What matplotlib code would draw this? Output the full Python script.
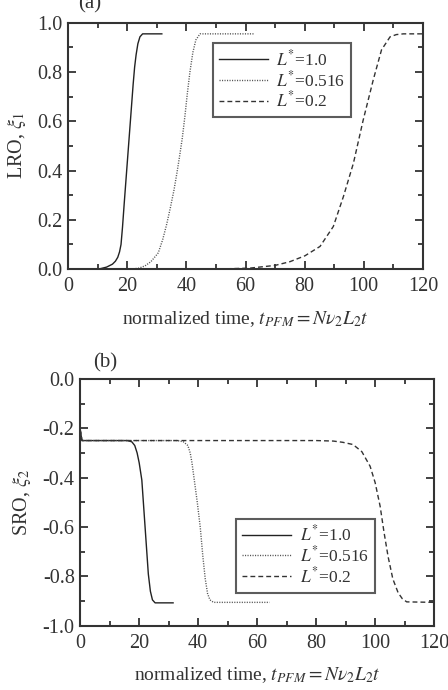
import matplotlib
matplotlib.use("agg")
import matplotlib.pyplot as plt
from matplotlib.ticker import MultipleLocator, FormatStrFormatter

plt.rcParams["font.family"] = ["Liberation Serif", "DejaVu Serif"]
plt.rcParams["mathtext.fontset"] = "stix"

# (a) long-range order
t_a_10 = [0, 9, 11, 13, 15, 16, 16.8, 17.4, 17.9, 18.4, 19.0, 20.0, 21.0, 22.0, 22.5, 23.0, 23.6, 24.3, 25.2, 31.7]
lro_10 = [0, 0, 0.002, 0.008, 0.02, 0.032, 0.048, 0.07, 0.1, 0.17, 0.27, 0.43, 0.59, 0.75, 0.82, 0.87, 0.915, 0.943, 0.955, 0.955]

t_a_0516 = [0, 21.5, 24, 26, 28, 30.5, 32, 33.3, 34.6, 35.8, 36.8, 37.6, 38.6, 39.5, 40.3, 41.2, 42.2, 43.2, 44.6, 62.9]
lro_0516 = [0, 0, 0.004, 0.013, 0.03, 0.066, 0.12, 0.18, 0.25, 0.32, 0.39, 0.45, 0.53, 0.62, 0.71, 0.8, 0.88, 0.93, 0.955, 0.955]

t_a_02 = [0, 50, 61.5, 70, 75, 80.1, 85.2, 89.7, 93.1, 96.5, 99.8, 103.2, 106, 108.9, 111, 113.4, 120]
lro_02 = [0, 0, 0.004, 0.015, 0.03, 0.054, 0.092, 0.173, 0.294, 0.43, 0.605, 0.768, 0.89, 0.943, 0.952, 0.955, 0.955]

# (b) short-range order
t_b_10 = [0, 0.6, 16, 17.5, 18.5, 19.3, 20.0, 20.9, 22.0, 23.1, 23.8, 24.5, 25.4, 31.5]
sro_10 = [-0.205, -0.25, -0.25, -0.255, -0.27, -0.3, -0.34, -0.41, -0.6, -0.79, -0.86, -0.895, -0.907, -0.907]

t_b_0516 = [0, 0.6, 33, 35, 36.5, 37.3, 37.9, 38.8, 39.7, 40.7, 41.6, 42.4, 43.2, 44, 45.2, 64.2]
sro_0516 = [-0.205, -0.25, -0.25, -0.255, -0.27, -0.3, -0.34, -0.42, -0.5, -0.6, -0.72, -0.81, -0.87, -0.895, -0.905, -0.905]

t_b_02 = [0, 0.6, 80, 85.8, 89, 92.5, 95.5, 98.3, 100, 101.7, 103, 104.4, 106, 107.8, 109.2, 110.7, 120]
sro_02 = [-0.205, -0.25, -0.25, -0.252, -0.257, -0.266, -0.295, -0.354, -0.42, -0.516, -0.62, -0.72, -0.81, -0.866, -0.89, -0.903, -0.905]

labels = [r"$L^{*}$=1.0", r"$L^{*}$=0.516", r"$L^{*}$=0.2"]
ink = "#333333"

fig = plt.figure(figsize=(4.48, 6.90), dpi=100)
ax1 = fig.add_axes([0.152, 0.610, 0.792, 0.357])
ax2 = fig.add_axes([0.179, 0.093, 0.790, 0.358])


def draw(ax, series, ylims, ylabel, leg_anchor):
    styles = [dict(ls="-", color="#222222"),
              dict(ls=(0, (0.8, 1.0)), color="#555555"),
              dict(ls=(0, (3.5, 2.2)), color="#333333")]
    for (t, v), lab, st in zip(series, labels, styles):
        ax.plot(t, v, lw=1.0, label=lab, **st)
    ax.set_xlim(0, 120)
    ax.set_ylim(*ylims)
    ax.xaxis.set_major_locator(MultipleLocator(20))
    ax.xaxis.set_minor_locator(MultipleLocator(10))
    ax.yaxis.set_major_locator(MultipleLocator(0.2))
    ax.yaxis.set_minor_locator(MultipleLocator(0.1))
    ax.yaxis.set_major_formatter(FormatStrFormatter("%.1f"))
    ax.tick_params(which="both", direction="in", top=True, right=True,
                   color=ink, width=1.3, labelsize=14.5, labelcolor=ink)
    ax.tick_params(which="major", length=6)
    ax.tick_params(axis="x", which="major", pad=6)
    ax.tick_params(axis="y", which="major", pad=4)
    ax.tick_params(which="minor", length=3.5)
    for s in ax.spines.values():
        s.set_linewidth(1.5)
        s.set_color(ink)
    ax.set_xlabel(r"normalized time, $t_{PFM} = N\nu_2 L_2 t$", fontsize=14,
                  color=ink, labelpad=9)
    ax.set_ylabel(ylabel, fontsize=14.5, color=ink, labelpad=7)
    leg = ax.legend(loc="upper left", bbox_to_anchor=leg_anchor, fontsize=12.5,
                    frameon=True, fancybox=False, handlelength=2.8,
                    labelspacing=0.05, borderpad=0.35, handletextpad=0.5,
                    borderaxespad=0)
    leg.get_frame().set_edgecolor(ink)
    leg.get_frame().set_linewidth(1.5)
    for txt in leg.get_texts():
        txt.set_color(ink)


draw(ax1, [(t_a_10, lro_10), (t_a_0516, lro_0516), (t_a_02, lro_02)],
     (0, 1.0), r"LRO, $\xi_1$", (0.408, 0.918))
draw(ax2, [(t_b_10, sro_10), (t_b_0516, sro_0516), (t_b_02, sro_02)],
     (-1.0, 0.0), r"SRO, $\xi_2$", (0.441, 0.434))

fig.text(0.201, 0.994, "(a)", fontsize=15, color=ink, ha="center", va="center")
fig.text(0.234, 0.474, "(b)", fontsize=15, color=ink, ha="center", va="center")

fig.savefig("out.png", dpi=100)
